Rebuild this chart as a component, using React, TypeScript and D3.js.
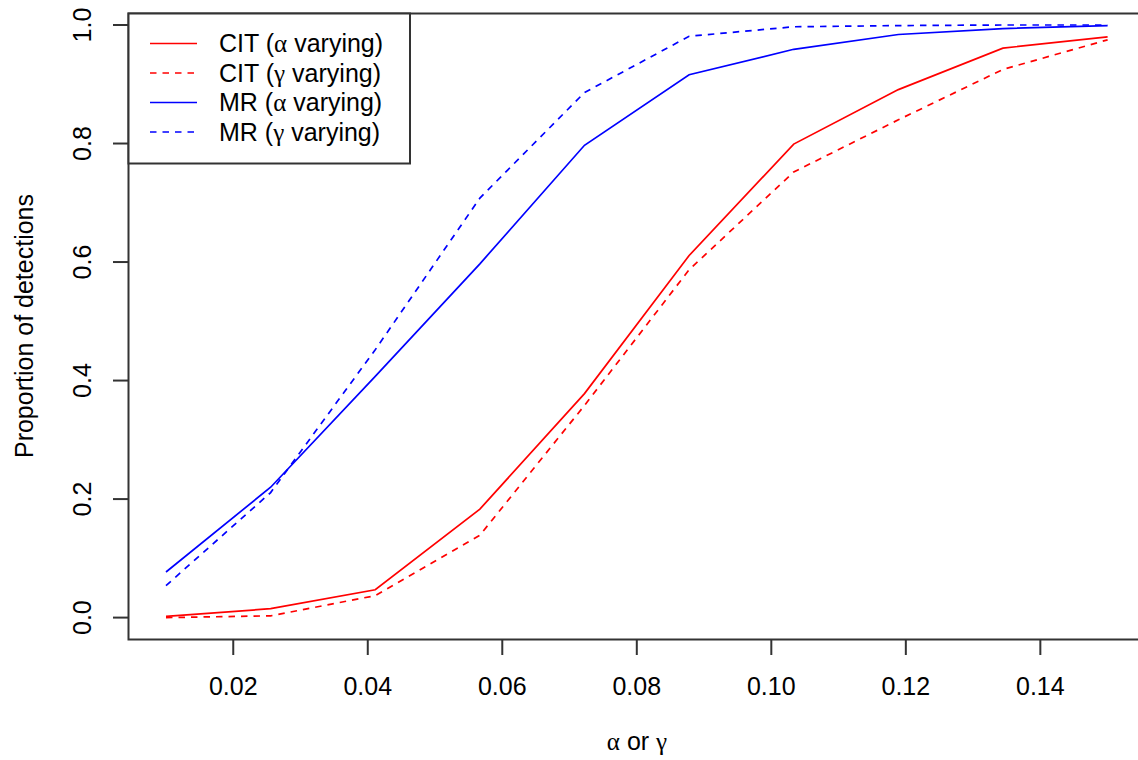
import React from "react";
import * as d3 from "d3";

const xValues = [0.01, 0.02556, 0.04111, 0.05667, 0.07222, 0.08778, 0.10333, 0.11889, 0.13444, 0.15];
const citAlpha = [0.002, 0.015, 0.047, 0.183, 0.378, 0.611, 0.799, 0.891, 0.961, 0.980];
const citGamma = [0.0, 0.003, 0.037, 0.139, 0.358, 0.587, 0.752, 0.840, 0.925, 0.975];
const mrAlpha = [0.077, 0.220, 0.407, 0.597, 0.797, 0.916, 0.959, 0.984, 0.994, 0.999];
const mrGamma = [0.054, 0.211, 0.452, 0.708, 0.886, 0.981, 0.997, 0.999, 1.0, 1.0];
const xTicks = [0.02, 0.04, 0.06, 0.08, 0.1, 0.12, 0.14];
const yTicks = [0.0, 0.2, 0.4, 0.6, 0.8, 1.0];

const seriesNames = ["CIT", "CIT", "MR", "MR"];
const seriesGreek = ["α", "γ", "α", "γ"];
const seriesColors = ["#ff0000", "#ff0000", "#0000ff", "#0000ff"];
const seriesDashed = [false, true, false, true];
const seriesValues = [citAlpha, citGamma, mrAlpha, mrGamma];

const W = 1138;
const H = 760;
const font = "'Liberation Sans', Arial, sans-serif";
const greekFont = "'Liberation Serif', 'DejaVu Serif', serif";
const fs = 25;

export default function App() {
  const x = d3.scaleLinear().domain([0.01, 0.15]).range([166, 1107.6]);
  const y = d3.scaleLinear().domain([0, 1]).range([617.6, 25]);
  const boxL = 128.5, boxT = 13.5, boxB = 639.5, boxR = 1146;
  const line = d3
    .line<number>()
    .x((_, i) => x(xValues[i]))
    .y((d) => y(d));

  const legL = boxL, legT = boxT, legR = 410, legB = 163.5;
  const rowY = (i: number) => 43.5 + i * 29.5;

  return (
    <svg
      width={W}
      height={H}
      style={{ position: "absolute", left: 0, top: 0, background: "#fff" }}
      fontFamily={font}
    >
      <rect x={0} y={0} width={W} height={H} fill="#fff" />
      {seriesValues.map((vals, i) => (
        <path
          key={i}
          d={line(vals) || ""}
          fill="none"
          stroke={seriesColors[i]}
          strokeWidth={1.7}
          strokeDasharray={seriesDashed[i] ? "6.5,6" : undefined}
        />
      ))}
      <rect
        x={boxL}
        y={boxT}
        width={boxR - boxL}
        height={boxB - boxT}
        fill="none"
        stroke="#333"
        strokeWidth={2}
      />
      {xTicks.map((t) => (
        <g key={t}>
          <line x1={x(t)} x2={x(t)} y1={boxB} y2={boxB + 15.5} stroke="#333" strokeWidth={2} />
          <text x={x(t)} y={695} textAnchor="middle" fontSize={fs} fill="#000">
            {t.toFixed(2)}
          </text>
        </g>
      ))}
      {yTicks.map((t) => (
        <g key={t}>
          <line x1={boxL - 15.5} x2={boxL} y1={y(t)} y2={y(t)} stroke="#333" strokeWidth={2} />
          <text
            transform={`translate(91,${y(t)}) rotate(-90)`}
            textAnchor="middle"
            fontSize={fs}
            fill="#000"
          >
            {t.toFixed(1)}
          </text>
        </g>
      ))}
      <text x={637} y={750} textAnchor="middle" fontSize={fs} fill="#000">
        <tspan fontFamily={greekFont}>α</tspan>
        <tspan> or </tspan>
        <tspan fontFamily={greekFont}>γ</tspan>
      </text>
      <text
        transform={`translate(32.5,326) rotate(-90)`}
        textAnchor="middle"
        fontSize={fs}
        fill="#000"
      >
        Proportion of detections
      </text>
      <rect
        x={legL}
        y={legT}
        width={legR - legL}
        height={legB - legT}
        fill="#fff"
        stroke="#333"
        strokeWidth={2}
      />
      {seriesNames.map((n, i) => (
        <g key={i}>
          <line
            x1={150}
            x2={197}
            y1={rowY(i)}
            y2={rowY(i)}
            stroke={seriesColors[i]}
            strokeWidth={1.7}
            strokeDasharray={seriesDashed[i] ? "6.5,6" : undefined}
          />
          <text x={219} y={rowY(i) + 8.8} fontSize={fs} fill="#000">
            {n} (<tspan fontFamily={greekFont}>{seriesGreek[i]}</tspan> varying)
          </text>
        </g>
      ))}
    </svg>
  );
}
